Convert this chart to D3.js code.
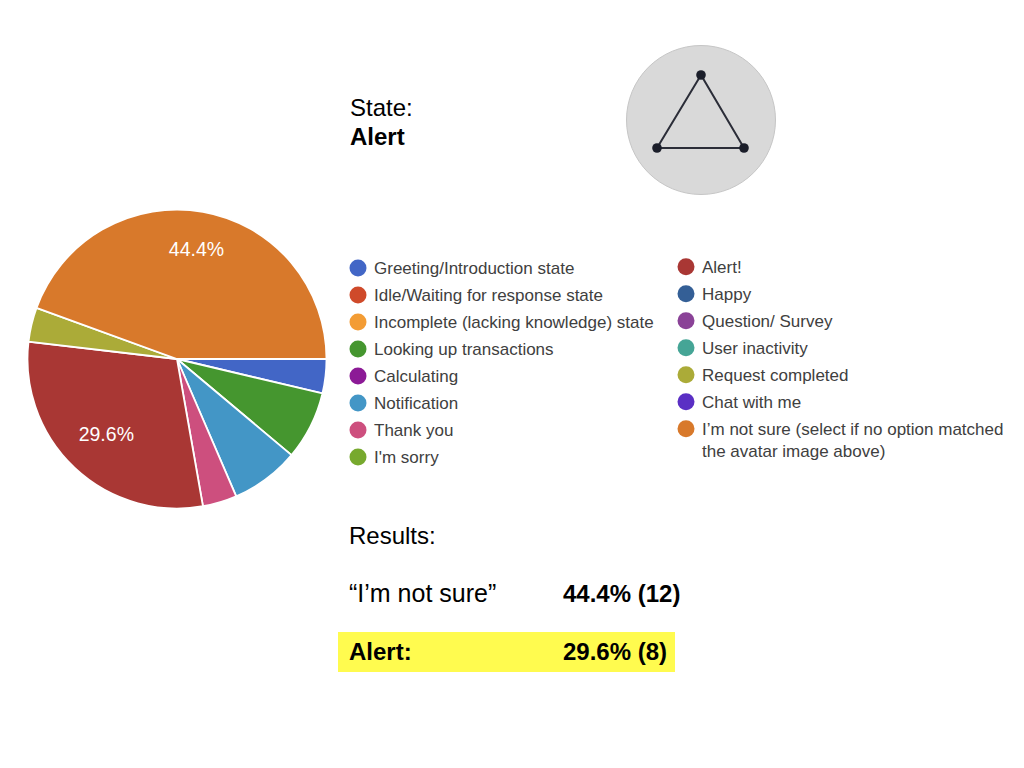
<!DOCTYPE html>
<html>
<head>
<meta charset="utf-8">
<script src="https://cdnjs.cloudflare.com/ajax/libs/d3/7.8.5/d3.min.js"></script>
<style>
  html, body { margin: 0; padding: 0; background: #fff; }
  svg { display: block; }
  text { font-family: "Liberation Sans", Arial, sans-serif; }
  .legend text { font-size: 17px; fill: #404040; }
  .note { font-size: 24px; fill: #000; }
  .bold { font-weight: bold; }
</style>
</head>
<body>
<svg id="chart" width="1024" height="768"></svg>
<script>
// answers in the order of the form
const categories = [
  "Greeting/Introduction state", "Idle/Waiting for response state",
  "Incomplete (lacking knowledge) state", "Looking up transactions",
  "Calculating", "Notification", "Thank you", "I'm sorry",
  "Alert!", "Happy", "Question/ Survey", "User inactivity",
  "Request completed", "Chat with me", "I’m not sure (select if no option matched"
];
const counts = [1, 0, 0, 2, 0, 2, 1, 0, 8, 0, 0, 0, 1, 0, 12];
const colors = [
  "#4266c6", "#cf4a2a", "#f39c34", "#45962f", "#8c1a96", "#4396c6", "#cd4f7e", "#77a92e",
  "#a93734", "#345f96", "#8a4297", "#45a596", "#abab38", "#5a2fc4", "#d8792b"
];
const labelled = ["I’m not sure (select if no option matched", "Alert!"];
const labelRadius = [112, 103];
const legendExtra = "the avatar image above)";

const svg = d3.select("#chart");
const total = d3.sum(counts);
const pct = d3.format(".1%");

// pie
const pie = d3.pie().sort(null).value(d => d)
  .startAngle(Math.PI / 2).endAngle(Math.PI * 2.5);
const arc = d3.arc().innerRadius(0).outerRadius(149.5);

const pieG = svg.append("g").attr("transform", "translate(177,359)");
const slices = pie(counts).map((s, i) => Object.assign(s, { name: categories[i], color: colors[i] }));

pieG.selectAll("path")
  .data(slices.filter(d => d.value > 0))
  .enter().append("path")
    .attr("d", arc)
    .attr("fill", d => d.color)
    .attr("stroke", "#fff")
    .attr("stroke-width", 1.8);

pieG.selectAll("text")
  .data(labelled.map(n => slices.find(s => s.name === n)))
  .enter().append("text")
    .attr("transform", (d, i) => {
      let c = d3.arc().innerRadius(labelRadius[i]).outerRadius(labelRadius[i]).centroid(d);
      return "translate(" + c + ")";
    })
    .attr("text-anchor", "middle")
    .attr("dy", "0.35em")
    .attr("fill", "#fff")
    .style("font-size", "19.5px")
    .text(d => pct(d.value / total));

// legend, two columns
const legendX = d3.scalePoint().domain([0, 1]).range([358, 686]);
const legendY = d3.scaleLinear().domain([0, 7]).range([268, 457]);

const legend = svg.append("g").attr("class", "legend");
const rows = legend.selectAll("g")
  .data(categories)
  .enter().append("g")
    .attr("transform", (d, i) => {
      let col = i < 8 ? 0 : 1, row = i < 8 ? i : i - 8;
      return "translate(" + legendX(col) + "," + (legendY(row) - (col ? 1.3 : 0)) + ")";
    });

rows.append("circle").attr("r", 8.5).attr("fill", (d, i) => colors[i]);
rows.append("text").attr("x", 16).attr("dy", "0.35em").text(d => d);

legend.append("text")
  .attr("x", legendX(1) + 16)
  .attr("y", legendY(7) - 6)
  .attr("dy", "0.35em")
  .text(legendExtra);

// header text
svg.append("text").attr("class", "note").attr("x", 350).attr("y", 116).text("State:");
svg.append("text").attr("class", "note bold").attr("x", 350).attr("y", 145).text("Alert");

// avatar
const avatarNodes = [[701, 75], [657, 148], [744, 148]];
svg.append("circle")
  .attr("cx", 701).attr("cy", 120).attr("r", 74.5)
  .attr("fill", "#d9d9d9").attr("stroke", "#c6c6c6").attr("stroke-width", 1);
svg.append("path")
  .attr("d", d3.line().curve(d3.curveLinearClosed)(avatarNodes))
  .attr("fill", "none").attr("stroke", "#2b2d38").attr("stroke-width", 2);
svg.selectAll(".node")
  .data(avatarNodes)
  .enter().append("circle")
    .attr("class", "node")
    .attr("cx", d => d[0]).attr("cy", d => d[1])
    .attr("r", 4.8).attr("fill", "#1b1e2a");

// results
svg.append("rect").attr("x", 338).attr("y", 632).attr("width", 337).attr("height", 40).attr("fill", "#fffb4f");
svg.append("text").attr("class", "note").attr("x", 349).attr("y", 544).text("Results:");
svg.append("text").attr("class", "note").attr("x", 349).attr("y", 602).style("font-size", "25px").text("“I’m not sure”");
svg.append("text").attr("class", "note bold").attr("x", 563).attr("y", 602)
  .text(pct(counts[14] / total) + " (" + counts[14] + ")");
svg.append("text").attr("class", "note bold").attr("x", 349).attr("y", 660).text("Alert:");
svg.append("text").attr("class", "note bold").attr("x", 563).attr("y", 660)
  .text(pct(counts[8] / total) + " (" + counts[8] + ")");
</script>
</body>
</html>
